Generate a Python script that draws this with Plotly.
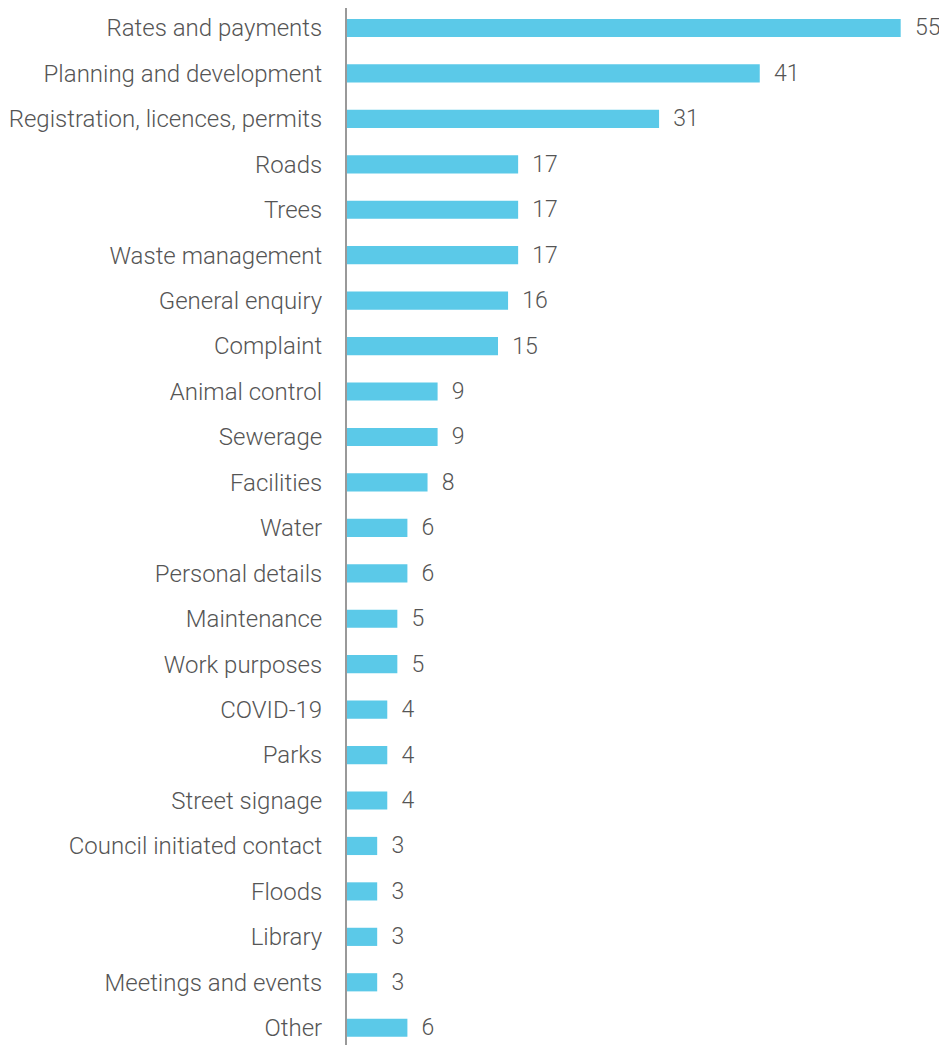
import plotly.graph_objects as go

categories = ["Rates and payments", "Planning and development", "Registration, licences, permits",
              "Roads", "Trees", "Waste management", "General enquiry", "Complaint",
              "Animal control", "Sewerage", "Facilities", "Water", "Personal details",
              "Maintenance", "Work purposes", "COVID-19", "Parks", "Street signage",
              "Council initiated contact", "Floods", "Library", "Meetings and events", "Other"]
values = [55, 41, 31, 17, 17, 17, 16, 15, 9, 9, 8, 6, 6, 5, 5, 4, 4, 4, 3, 3, 3, 3, 6]

fig = go.Figure(go.Bar(
    x=values, y=categories, orientation="h",
    marker=dict(color="#5BC9E8", line=dict(width=0)),
    width=0.4,
    text=values, texttemplate="  %{x}", textposition="outside",
    constraintext="none",
    textfont=dict(family="Roboto", size=23, color="#555555", weight=300),
    cliponaxis=False, hoverinfo="skip",
))

fig.update_layout(
    width=939, height=1037,
    margin=dict(l=339, r=0, t=0, b=0),
    paper_bgcolor="white", plot_bgcolor="white",
    showlegend=False,
    xaxis=dict(range=[0, 59.6], showgrid=False, zeroline=False, showticklabels=False,
               showline=False, ticks="", automargin=False),
    yaxis=dict(categoryorder="array", categoryarray=categories,
               range=[22.38, -0.44], showgrid=False, zeroline=False, automargin=False,
               showline=True, linecolor="#999999", linewidth=2, ticks="",
               ticklabelstandoff=18,
               tickfont=dict(family="Roboto", size=24, color="#555555", weight=300)),
)

fig.write_html("out.html")
